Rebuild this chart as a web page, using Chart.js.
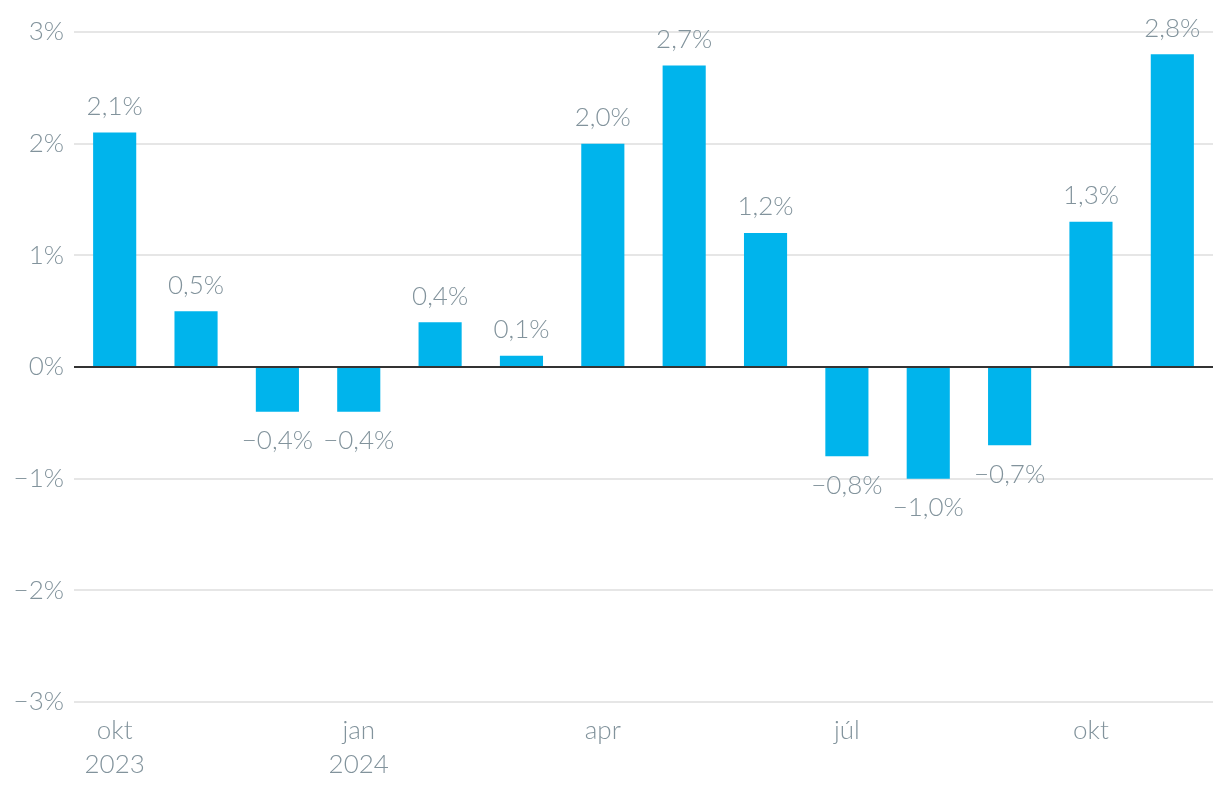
<!DOCTYPE html>
<html>
<head>
<meta charset="utf-8">
<script src="https://cdn.jsdelivr.net/npm/chart.js@4/dist/chart.umd.min.js"></script>
<style>
html,body{margin:0;padding:0;background:#fff;}
#wrap{width:1220px;height:800px;position:relative;}
</style>
</head>
<body>
<div id="wrap"><canvas id="c" width="1220" height="800"></canvas></div>
<script>
const categories = [
  ['okt','2023'], '', '', ['jan','2024'], '', '', 'apr', '', '', 'júl', '', '', 'okt', ''
];
const values = [2.1, 0.5, -0.4, -0.4, 0.4, 0.1, 2.0, 2.7, 1.2, -0.8, -1.0, -0.7, 1.3, 2.8];
const yTicks = [-3, -2, -1, 0, 1, 2, 3];

const textColor = '#82939c';
const fontFamily = 'Lato, "Open Sans", sans-serif';

function fmt(v, digits) {
  const s = Math.abs(v).toFixed(digits).replace('.', ',');
  return (v < 0 ? '\u2212' : '') + s + '%';
}

const labelPlugin = {
  id: 'barLabels',
  afterDatasetsDraw(chart) {
    const ctx = chart.ctx;
    const meta = chart.getDatasetMeta(0);
    ctx.save();
    ctx.font = '300 26px ' + fontFamily;
    ctx.fillStyle = textColor;
    ctx.textAlign = 'center';
    ctx.textBaseline = 'middle';
    meta.data.forEach((bar, i) => {
      const v = values[i];
      const y = v >= 0 ? bar.y - 26 : bar.y + 29;
      ctx.fillText(fmt(v, 1), bar.x, y);
    });
    ctx.restore();
  }
};

new Chart(document.getElementById('c'), {
  type: 'bar',
  data: {
    labels: categories,
    datasets: [{
      data: values,
      backgroundColor: '#00b4ec',
      borderWidth: 0,
      categoryPercentage: 1,
      barPercentage: 0.53
    }]
  },
  options: {
    responsive: false,
    animation: false,
    layout: { padding: { top: 32, right: 7, left: 0, bottom: 0 } },
    plugins: { legend: { display: false }, tooltip: { enabled: false } },
    scales: {
      x: {
        grid: { display: false, drawTicks: false },
        border: { display: false },
        ticks: {
          autoSkip: false,
          maxRotation: 0,
          padding: 12,
          color: textColor,
          font: { family: fontFamily, size: 26, weight: '300', lineHeight: 1.3 }
        },
        afterFit(scale) { scale.height = 98; }
      },
      y: {
        min: -3, max: 3,
        afterBuildTicks(scale) { scale.ticks = yTicks.map(v => ({ value: v })); },
        grid: {
          drawTicks: false,
          color: ctx => (ctx.tick && ctx.tick.value === 0) ? '#333333' : '#e6e6e6',
          lineWidth: 2
        },
        border: { display: false },
        ticks: {
          padding: 10,
          color: textColor,
          font: { family: fontFamily, size: 26, weight: '300' },
          callback: v => fmt(v, 0)
        },
        afterFit(scale) { scale.width = 74; }
      }
    }
  },
  plugins: [labelPlugin]
});
</script>
</body>
</html>
